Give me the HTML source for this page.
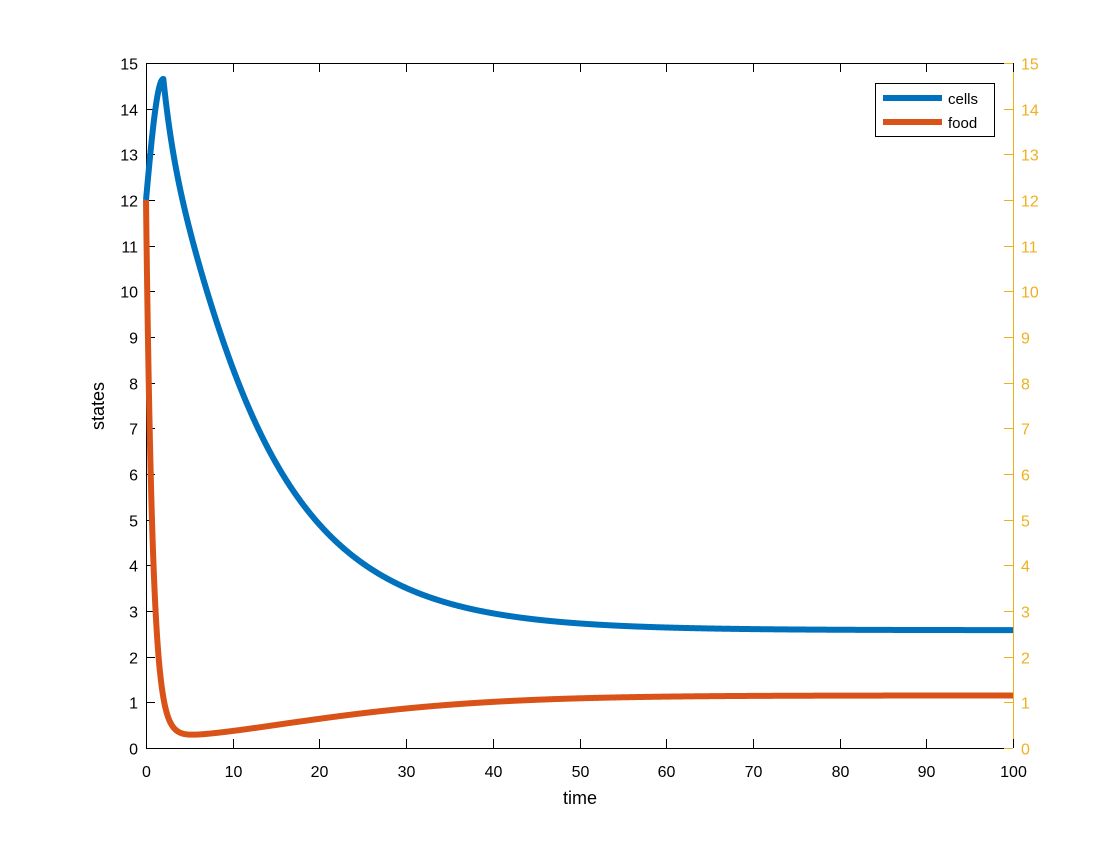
<!DOCTYPE html>
<html><head><meta charset="utf-8"><style>
html,body{margin:0;padding:0;background:#fff;}
svg text{font-family:"Liberation Sans",Arial,sans-serif;}
</style></head><body>
<svg id="s" width="1120" height="840" viewBox="0 0 1120 840" xmlns="http://www.w3.org/2000/svg">
<rect width="1120" height="840" fill="#fff"/>
<g id="ax"></g>
<path id="cells" fill="none" stroke="#0072BD" stroke-width="6" stroke-linejoin="round"/>
<path id="food" fill="none" stroke="#D95319" stroke-width="6" stroke-linejoin="round"/>
<rect x="875.5" y="83.5" width="119" height="53" fill="#fff" stroke="#000" stroke-width="1"/>
<line x1="883" y1="98" x2="942" y2="98" stroke="#0072BD" stroke-width="6"/>
<line x1="883" y1="122" x2="942" y2="122" stroke="#D95319" stroke-width="6"/>
<text x="948" y="104" font-size="15">cells</text>
<text x="948" y="128" font-size="15">food</text>
<text x="580" y="804" font-size="18" text-anchor="middle">time</text>
<text x="104" y="406" font-size="18" text-anchor="middle" transform="rotate(-90 104 406)">states</text>
</svg>
<script>
var L=146,R=1013,T=63,B=748;
function X(t){return L+(R-L)*t/100;}
function Y(v){return B-(B-T)*v/15;}
var ax='';
ax+='<line x1="'+L+'" y1="'+(T+.5)+'" x2="'+R+'" y2="'+(T+.5)+'" stroke="#000"/>';
ax+='<line x1="'+L+'" y1="'+(B+.5)+'" x2="'+R+'" y2="'+(B+.5)+'" stroke="#000"/>';
ax+='<line x1="'+(L+.5)+'" y1="'+T+'" x2="'+(L+.5)+'" y2="'+B+'" stroke="#000"/>';
ax+='<line x1="'+(R+.5)+'" y1="'+T+'" x2="'+(R+.5)+'" y2="'+B+'" stroke="#EDB120"/>';
for(var i=0;i<=10;i++){var x=Math.round(X(i*10))+.5;
ax+='<line x1="'+x+'" y1="'+B+'" x2="'+x+'" y2="'+(B-9)+'" stroke="#000"/>';
ax+='<line x1="'+x+'" y1="'+T+'" x2="'+x+'" y2="'+(T+9)+'" stroke="#000"/>';
ax+='<text x="'+x+'" y="777" font-size="16" text-anchor="middle">'+(i*10)+'</text>';}
for(var v=0;v<=15;v++){var y=Math.round(Y(v))+.5;
ax+='<line x1="'+L+'" y1="'+y+'" x2="'+(L+9)+'" y2="'+y+'" stroke="#000"/>';
ax+='<text x="138" y="'+(y+6)+'" font-size="16" text-anchor="end">'+v+'</text>';
ax+='<line x1="'+R+'" y1="'+y+'" x2="'+(R-9)+'" y2="'+y+'" stroke="#EDB120"/>';
ax+='<text x="1021" y="'+(y+6)+'" font-size="16" fill="#EDB120">'+v+'</text>';}
document.getElementById('ax').innerHTML=ax;
function cells(t){if(t<2){var s=t/2;return 12+2.65*Math.sin(s*Math.PI/2);}
var d=t-2;return 2.58+12.07*Math.exp(-d/10.9)*(1-0.06*d*Math.exp(-d/2));}
function food(t){var g=t<4?0.27:0.27+0.88*(1-Math.exp(-Math.pow((t-4)/24,1.5)));
return 11.73*Math.exp(-1.32*t)+g;}
var pc='',pf='';
for(var k=0;k<=2000;k++){var t=k/20;
pc+=(k?'L':'M')+X(t).toFixed(2)+' '+Y(cells(t)).toFixed(2);
pf+=(k?'L':'M')+X(t).toFixed(2)+' '+Y(Math.min(12,food(t))).toFixed(2);}
document.getElementById('cells').setAttribute('d',pc);
document.getElementById('food').setAttribute('d',pf);
</script>
</body></html>
